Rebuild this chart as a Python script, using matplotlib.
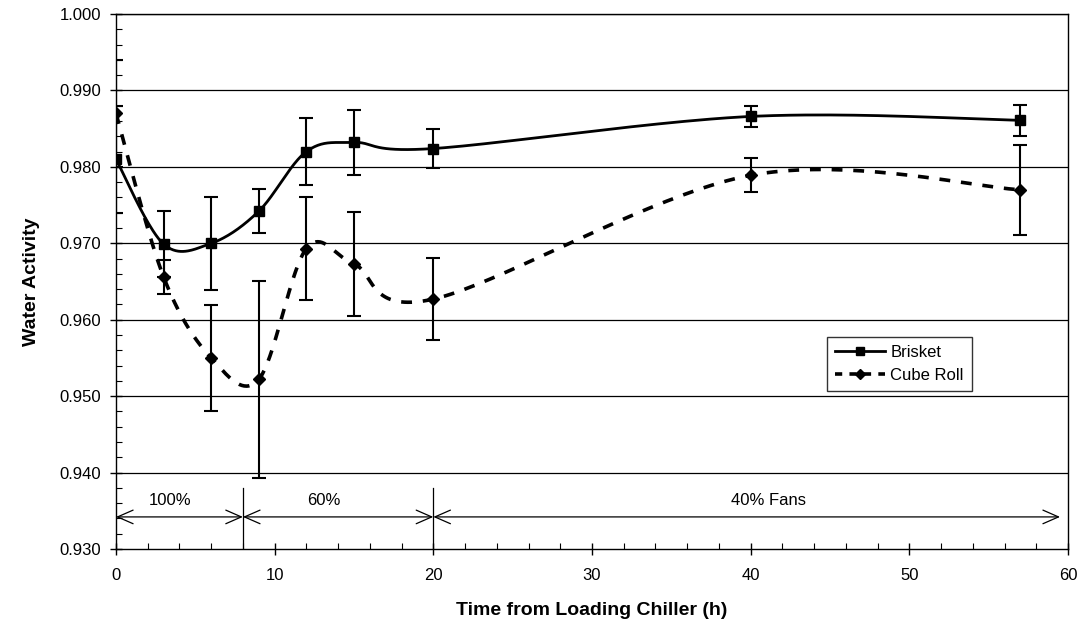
import numpy as np
import matplotlib
matplotlib.use("Agg")
import matplotlib.pyplot as plt
from matplotlib.ticker import MultipleLocator, FormatStrFormatter

plt.rcParams['font.family'] = ['Liberation Sans', 'DejaVu Sans']

# --- datos ---
hours = [0, 3, 6, 9, 12, 15, 20, 40, 57]
brisket = [0.981, 0.9699, 0.9700, 0.9742, 0.9820, 0.9832, 0.9824, 0.9866, 0.9861]
brisket_err = [0.007, 0.0043, 0.0061, 0.0029, 0.0044, 0.0043, 0.0025, 0.0014, 0.0020]
cube_roll = [0.987, 0.9656, 0.9550, 0.9522, 0.9693, 0.9673, 0.9627, 0.9789, 0.9770]
cube_roll_err = [0.007, 0.0022, 0.0069, 0.0129, 0.0067, 0.0068, 0.0054, 0.0022, 0.0059]

phase_edges = [0, 8, 20, 59.5]
phase_labels = ["100%", "60%", "40% Fans"]
phase_label_x = [3.4, 13.1, 41.1]


def smooth_curve(ax, xs, ys, n=40):
    # suavizado tipo Excel (Bezier / Catmull-Rom) en coordenadas de pantalla
    pts = ax.transData.transform(np.column_stack([xs, ys]))
    p = np.vstack([pts[0], pts, pts[-1]])
    out = []
    t = np.linspace(0, 1, n)[:, None]
    for i in range(1, len(p) - 2):
        p0, p1, p2, p3 = p[i - 1], p[i], p[i + 1], p[i + 2]
        c1 = p1 + (p2 - p0) / 6.0
        c2 = p2 - (p3 - p1) / 6.0
        seg = ((1 - t) ** 3) * p1 + 3 * ((1 - t) ** 2) * t * c1 + 3 * (1 - t) * t ** 2 * c2 + t ** 3 * p2
        out.append(seg)
    out = np.vstack(out)
    return ax.transData.inverted().transform(out).T


fig = plt.figure(figsize=(10.88, 6.32), dpi=100)
fig.subplots_adjust(left=0.1066, right=0.9816, top=0.9778, bottom=0.1313)
ax = fig.add_subplot(111)

ax.set_xlim(0, 60)
ax.set_ylim(0.930, 1.000)

# cuadricula horizontal
for yv in np.arange(0.940, 1.0, 0.010):
    ax.axhline(yv, color='black', lw=0.9, zorder=1)

# curvas suavizadas
bx, by = smooth_curve(ax, hours, brisket)
ax.plot(bx, by, color='black', lw=2.0, zorder=3)
cx, cy = smooth_curve(ax, hours, cube_roll)
ax.plot(cx, cy, color='black', lw=2.6, dashes=(3, 3), zorder=3)

# barras de error y marcadores
ax.errorbar(hours, brisket, yerr=brisket_err, fmt='none', ecolor='black',
            elinewidth=1.5, capsize=5, capthick=1.5, zorder=4)
ax.errorbar(hours, cube_roll, yerr=cube_roll_err, fmt='none', ecolor='black',
            elinewidth=1.5, capsize=5, capthick=1.5, zorder=4)
ax.plot(hours, brisket, 's', color='black', ms=7, zorder=5)
ax.plot(hours, cube_roll, 'D', color='black', ms=6, zorder=5)

# fases de ventilacion
arrow_y = 0.9342
for i in range(len(phase_labels)):
    ax.annotate('', xy=(phase_edges[i + 1], arrow_y), xytext=(phase_edges[i], arrow_y),
                arrowprops=dict(arrowstyle='<->,head_length=0.8,head_width=0.35',
                                lw=0.9, color='black', shrinkA=0, shrinkB=0,
                                mutation_scale=14))
    ax.text(phase_label_x[i], 0.9354, phase_labels[i], ha='center', va='bottom', fontsize=12)
for xe in phase_edges[1:3]:
    ax.plot([xe, xe], [0.930, 0.938], color='black', lw=0.9)

# leyenda
h1, = ax.plot([], [], '-s', color='black', lw=2.0, ms=6)
h2, = ax.plot([], [], 'D', color='black', lw=2.6, ms=5, ls=(0, (2, 2)))
leg = ax.legend([h1, h2], ["Brisket", "Cube Roll"], loc='upper right',
                bbox_to_anchor=(0.908, 0.412), fontsize=12, frameon=True,
                fancybox=False, edgecolor='black', handlelength=3.0,
                handletextpad=0.3, borderpad=0.5, labelspacing=0.45)
leg.get_frame().set_linewidth(1.0)

# ejes y marcas
ax.xaxis.set_major_locator(MultipleLocator(10))
ax.xaxis.set_minor_locator(MultipleLocator(2))
ax.yaxis.set_major_locator(MultipleLocator(0.010))
ax.yaxis.set_minor_locator(MultipleLocator(0.002))
ax.yaxis.set_major_formatter(FormatStrFormatter('%.3f'))
ax.tick_params(which='major', direction='inout', length=9, width=1.0, labelsize=12)
ax.tick_params(axis='x', which='major', pad=9)
ax.tick_params(axis='y', which='major', pad=6)
ax.tick_params(which='minor', direction='in', length=4, width=0.8)
ax.tick_params(axis='x', which='both', top=False)
ax.tick_params(axis='y', which='both', right=False)
for s in ax.spines.values():
    s.set_linewidth(1.0)
    s.set_color('black')

ax.set_xlabel("Time from Loading Chiller (h)", fontsize=14, fontweight='bold', labelpad=14)
ax.set_ylabel("Water Activity", fontsize=14, fontweight='bold', labelpad=14)

fig.savefig("out.png", dpi=100)
